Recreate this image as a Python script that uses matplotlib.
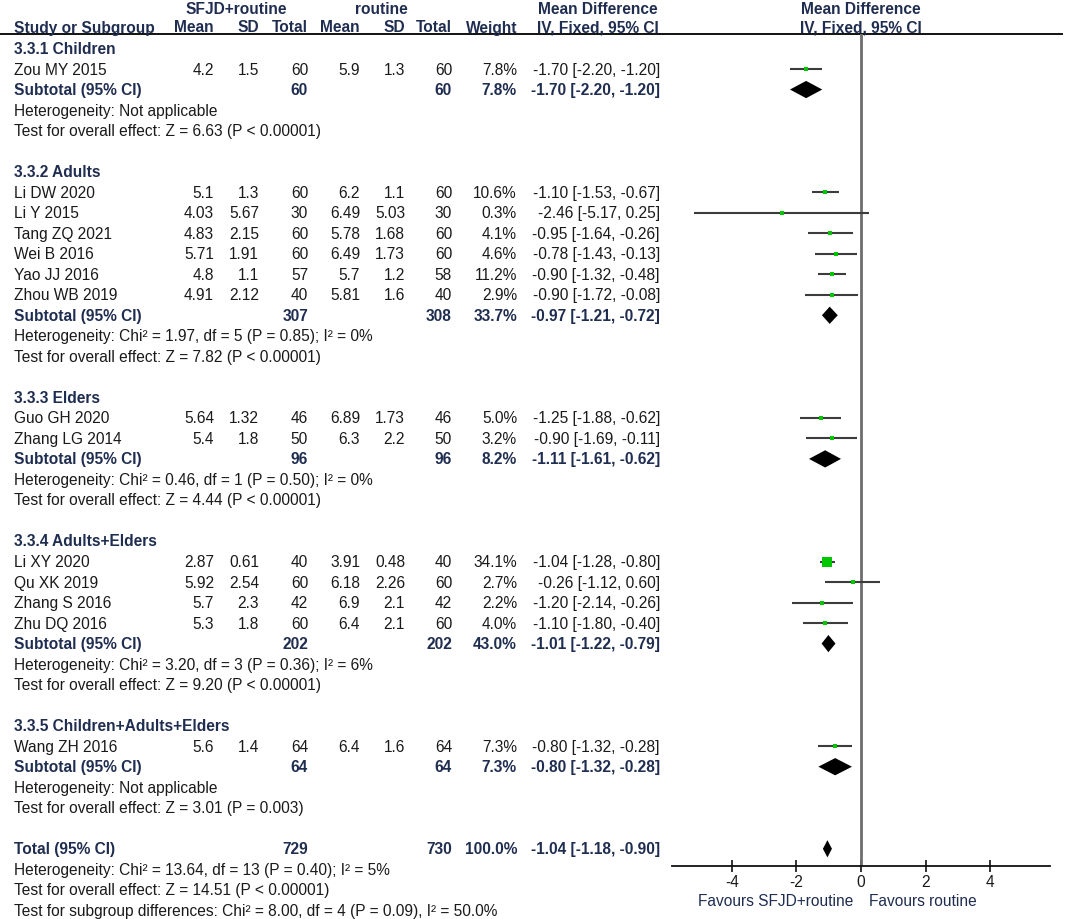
import matplotlib.pyplot as plt
from matplotlib.lines import Line2D

# ---- data ----
groups = ['3.3.1 Children', '3.3.2 Adults', '3.3.3 Elders',
          '3.3.4 Adults+Elders', '3.3.5 Children+Adults+Elders']
study_names = ['Zou MY 2015',
               'Li DW 2020', 'Li Y 2015', 'Tang ZQ 2021', 'Wei B 2016', 'Yao JJ 2016', 'Zhou WB 2019',
               'Guo GH 2020', 'Zhang LG 2014',
               'Li XY 2020', 'Qu XK 2019', 'Zhang S 2016', 'Zhu DQ 2016',
               'Wang ZH 2016']
study_group = [0, 1, 1, 1, 1, 1, 1, 2, 2, 3, 3, 3, 3, 4]
mean1 = ['4.2', '5.1', '4.03', '4.83', '5.71', '4.8', '4.91', '5.64', '5.4', '2.87', '5.92', '5.7', '5.3', '5.6']
sd1 = ['1.5', '1.3', '5.67', '2.15', '1.91', '1.1', '2.12', '1.32', '1.8', '0.61', '2.54', '2.3', '1.8', '1.4']
n1 = [60, 60, 30, 60, 60, 57, 40, 46, 50, 40, 60, 42, 60, 64]
mean2 = ['5.9', '6.2', '6.49', '5.78', '6.49', '5.7', '5.81', '6.89', '6.3', '3.91', '6.18', '6.9', '6.4', '6.4']
sd2 = ['1.3', '1.1', '5.03', '1.68', '1.73', '1.2', '1.6', '1.73', '2.2', '0.48', '2.26', '2.1', '2.1', '1.6']
n2 = [60, 60, 30, 60, 60, 58, 40, 46, 50, 40, 60, 42, 60, 64]
weight = [7.8, 10.6, 0.3, 4.1, 4.6, 11.2, 2.9, 5.0, 3.2, 34.1, 2.7, 2.2, 4.0, 7.3]
md = [-1.70, -1.10, -2.46, -0.95, -0.78, -0.90, -0.90, -1.25, -0.90, -1.04, -0.26, -1.20, -1.10, -0.80]
lo = [-2.20, -1.53, -5.17, -1.64, -1.43, -1.32, -1.72, -1.88, -1.69, -1.28, -1.12, -2.14, -1.80, -1.32]
hi = [-1.20, -0.67, 0.25, -0.26, -0.13, -0.48, -0.08, -0.62, -0.11, -0.80, 0.60, -0.26, -0.40, -0.28]

sub_n1 = [60, 307, 96, 202, 64]
sub_n2 = [60, 308, 96, 202, 64]
sub_w = [7.8, 33.7, 8.2, 43.0, 7.3]
sub_md = [-1.70, -0.97, -1.11, -1.01, -0.80]
sub_lo = [-2.20, -1.21, -1.61, -1.22, -1.32]
sub_hi = [-1.20, -0.72, -0.62, -0.79, -0.28]
sub_het = ['Heterogeneity: Not applicable',
           'Heterogeneity: Chi\u00b2 = 1.97, df = 5 (P = 0.85); I\u00b2 = 0%',
           'Heterogeneity: Chi\u00b2 = 0.46, df = 1 (P = 0.50); I\u00b2 = 0%',
           'Heterogeneity: Chi\u00b2 = 3.20, df = 3 (P = 0.36); I\u00b2 = 6%',
           'Heterogeneity: Not applicable']
sub_z = ['Test for overall effect: Z = 6.63 (P < 0.00001)',
         'Test for overall effect: Z = 7.82 (P < 0.00001)',
         'Test for overall effect: Z = 4.44 (P < 0.00001)',
         'Test for overall effect: Z = 9.20 (P < 0.00001)',
         'Test for overall effect: Z = 3.01 (P = 0.003)']

total_n1, total_n2, total_w = 729, 730, 100.0
total_md, total_lo, total_hi = -1.04, -1.18, -0.90
total_lines = ['Heterogeneity: Chi\u00b2 = 13.64, df = 13 (P = 0.40); I\u00b2 = 5%',
               'Test for overall effect: Z = 14.51 (P < 0.00001)',
               'Test for subgroup differences: Chi\u00b2 = 8.00, df = 4 (P = 0.09), I\u00b2 = 50.0%']

x_ticks = [-4, -2, 0, 2, 4]

# ---- layout ----
W, H = 1065, 920
ROW0, PITCH = 49.5, 20.52
HEADER_LINE = 35
AXIS_Y = 867
ZERO_X, UNIT = 861, 32.29
XLIM = 5.84

plt.rcParams['font.family'] = ['Liberation Sans', 'DejaVu Sans']
FS = 11.2
TXT = '#1a1a1a'
BLD = '#1f2d50'

fig = plt.figure(figsize=(W / 100, H / 100), dpi=100)
tax = fig.add_axes([0, 0, 1, 1])
tax.set_xlim(0, W)
tax.set_ylim(H, 0)
tax.axis('off')

ax = fig.add_axes([(ZERO_X - XLIM * UNIT) / W, 1 - AXIS_Y / H,
                   2 * XLIM * UNIT / W, (AXIS_Y - HEADER_LINE) / H])
ax.set_facecolor('none')
ax.set_xlim(-XLIM, XLIM)
ax.set_ylim((AXIS_Y - ROW0) / PITCH, (HEADER_LINE - ROW0) / PITCH)


def ypix(r):
    return ROW0 + PITCH * r


def put(x, r, s, ha='left', bold=False):
    tax.text(x, ypix(r), s, ha=ha, va='center', fontsize=FS,
             fontweight='bold' if bold else 'normal',
             color=BLD if bold else TXT)


def fmt_ci(m, l, h):
    return f'{m:.2f} [{l:.2f}, {h:.2f}]'


# column right edges
cx = dict(m1=214, s1=259, t1=308, m2=360, s2=405, t2=452, w=517, ci=660)
LX = 14

# headers
hy1, hy2 = 9, 28
for x, s in [(236, 'SFJD+routine'), (381, 'routine'), (598, 'Mean Difference'), (861, 'Mean Difference')]:
    tax.text(x, hy1, s, ha='center', va='center', fontsize=FS, fontweight='bold', color=BLD)
tax.text(LX, hy2, 'Study or Subgroup', ha='left', va='center', fontsize=FS, fontweight='bold', color=BLD)
for key, s in [('m1', 'Mean'), ('s1', 'SD'), ('t1', 'Total'), ('m2', 'Mean'),
               ('s2', 'SD'), ('t2', 'Total'), ('w', 'Weight')]:
    tax.text(cx[key], hy2, s, ha='right', va='center',
             fontsize=FS, fontweight='bold', color=BLD)
tax.text(598, hy2, 'IV, Fixed, 95% CI', ha='center', va='center', fontsize=FS, fontweight='bold', color=BLD)
tax.text(861, hy2, 'IV, Fixed, 95% CI', ha='center', va='center', fontsize=FS, fontweight='bold', color=BLD)
tax.add_line(Line2D([0, 1062], [HEADER_LINE, HEADER_LINE], color='#111111', lw=1.4))

# body
DH = 0.42
r = 0
for g, gname in enumerate(groups):
    put(LX, r, gname, bold=True)
    r += 1
    for i in [k for k in range(len(study_names)) if study_group[k] == g]:
        put(LX, r, study_names[i])
        put(cx['m1'], r, mean1[i], ha='right')
        put(cx['s1'], r, sd1[i], ha='right')
        put(cx['t1'], r, str(n1[i]), ha='right')
        put(cx['m2'], r, mean2[i], ha='right')
        put(cx['s2'], r, sd2[i], ha='right')
        put(cx['t2'], r, str(n2[i]), ha='right')
        put(cx['w'], r, f'{weight[i]:.1f}%', ha='right')
        put(cx['ci'], r, fmt_ci(md[i], lo[i], hi[i]), ha='right')
        ax.plot([lo[i], hi[i]], [r, r], color='#3c3c3c', lw=1.5, solid_capstyle='butt', zorder=3)
        side_px = max(3.4, 10 * (weight[i] / 34.1) ** 0.7)
        ax.plot(md[i], r, marker='s', ms=side_px * 0.72, color='#00c800', mew=0, zorder=4)
        r += 1
    put(LX, r, 'Subtotal (95% CI)', bold=True)
    put(cx['t1'], r, str(sub_n1[g]), ha='right', bold=True)
    put(cx['t2'], r, str(sub_n2[g]), ha='right', bold=True)
    put(cx['w'], r, f'{sub_w[g]:.1f}%', ha='right', bold=True)
    put(cx['ci'], r, fmt_ci(sub_md[g], sub_lo[g], sub_hi[g]), ha='right', bold=True)
    ax.fill([sub_lo[g], sub_md[g], sub_hi[g], sub_md[g]], [r, r - DH, r, r + DH],
            color='black', lw=0, zorder=4)
    r += 1
    put(LX, r, sub_het[g])
    r += 1
    put(LX, r, sub_z[g])
    r += 2

put(LX, r, 'Total (95% CI)', bold=True)
put(cx['t1'], r, str(total_n1), ha='right', bold=True)
put(cx['t2'], r, str(total_n2), ha='right', bold=True)
put(cx['w'], r, f'{total_w:.1f}%', ha='right', bold=True)
put(cx['ci'], r, fmt_ci(total_md, total_lo, total_hi), ha='right', bold=True)
ax.fill([total_lo, total_md, total_hi, total_md], [r, r - DH, r, r + DH],
        color='black', lw=0, zorder=4)
for k, s in enumerate(total_lines):
    put(LX, r + 1 + k, s)

# forest axis
ax.axvline(0, color='#6e6e6e', lw=2, zorder=2)
for sp in ['top', 'right', 'left']:
    ax.spines[sp].set_visible(False)
ax.spines['bottom'].set_color('#111111')
ax.spines['bottom'].set_linewidth(1.3)
ax.set_yticks([])
ax.set_xticks(x_ticks)
ax.set_xticklabels([str(t) for t in x_ticks])
ax.tick_params(axis='x', direction='inout', length=8, width=1.2, color='#111111',
               labelsize=FS, labelcolor=TXT, pad=2)

tax.text(853, 902, 'Favours SFJD+routine', ha='right', va='center', fontsize=FS, color=BLD)
tax.text(869, 902, 'Favours routine', ha='left', va='center', fontsize=FS, color=BLD)

fig.savefig('out.png', dpi=100)
